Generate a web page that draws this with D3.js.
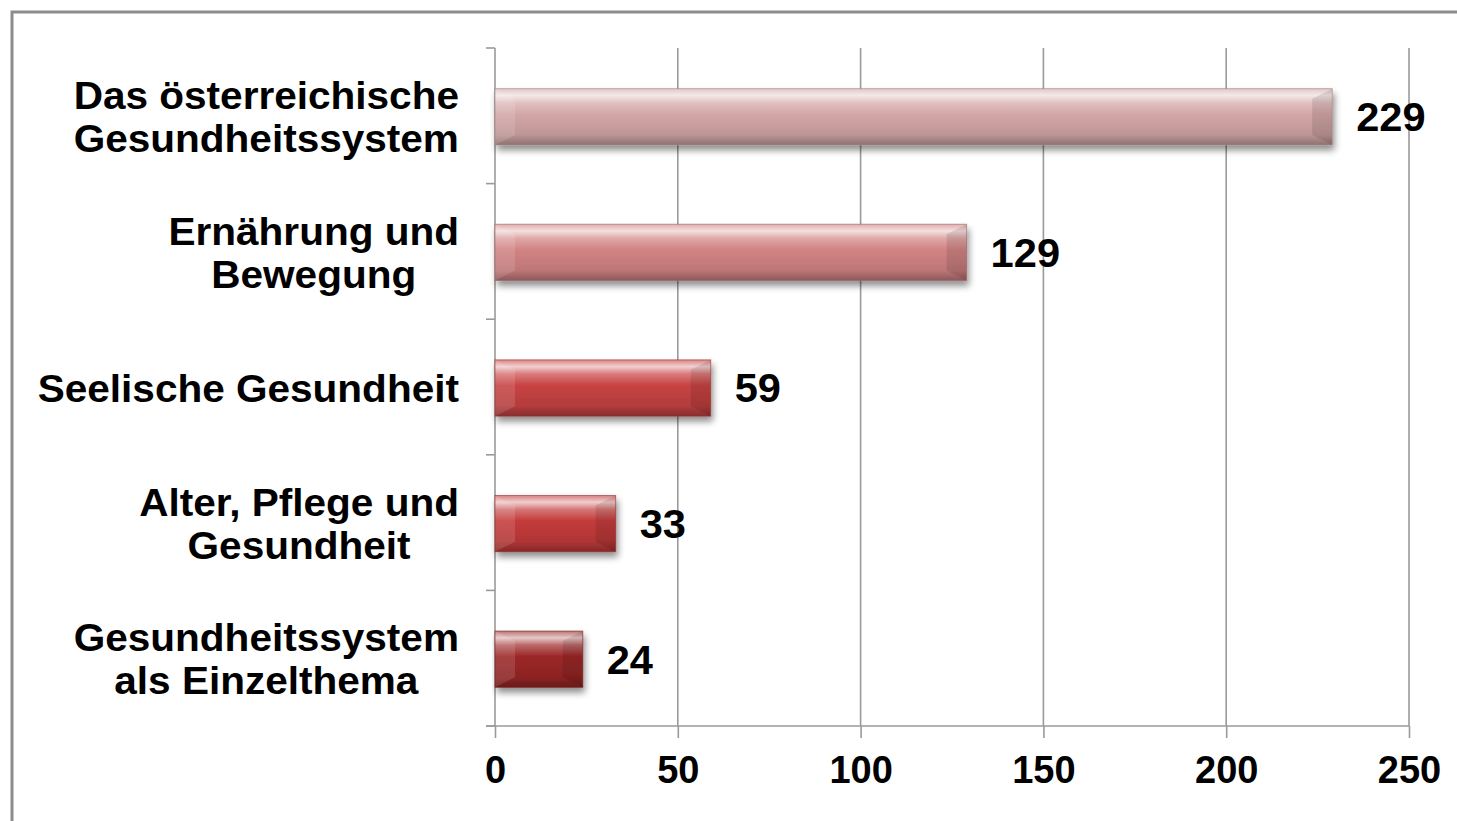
<!DOCTYPE html>
<html><head><meta charset="utf-8">
<script src="https://cdn.jsdelivr.net/npm/d3@7"></script>
<style>
html,body{margin:0;padding:0;background:#fff;overflow:hidden}
text{font-family:"Liberation Sans",Arial,sans-serif;font-weight:bold;fill:#000}
</style></head>
<body>
<svg id="c" width="1457" height="821"></svg>
<script>
// ---- data ----
const categories = [
  ["Das österreichische", "Gesundheitssystem"],
  ["Ernährung und", "Bewegung"],
  ["Seelische Gesundheit"],
  ["Alter, Pflege und", "Gesundheit"],
  ["Gesundheitssystem", "als Einzelthema"]
];
const values = [229, 129, 59, 33, 24];
const xTicks = [0, 50, 100, 150, 200, 250];

// ---- styles (separate from data) ----
const barColors = ["#d4a7a7", "#d28383", "#c84343", "#c43b3b", "#9c2727"];

const svg = d3.select("#c");
const W = 1457, H = 821;
const m = {left: 495, right: 48, top: 48, bottom: 95};

// frame
svg.append("path").attr("d", `M12,${H+5} L12,12 L${W+5},12`)
  .attr("fill", "none").attr("stroke", "#8c8c8c").attr("stroke-width", 3);

const x = d3.scaleLinear().domain([0, 250]).range([m.left, W - m.right]);
const y = d3.scaleBand().domain(d3.range(categories.length)).range([m.top, H - m.bottom]).paddingInner(0.585).paddingOuter(0.2925);
const yb = d3.scaleBand().domain(d3.range(categories.length)).range([m.top, H - m.bottom]);

const defs = svg.append("defs");
const f = defs.append("filter").attr("id", "sh").attr("x", "-5%").attr("y", "-20%").attr("width", "115%").attr("height", "160%");
f.append("feGaussianBlur").attr("in", "SourceAlpha").attr("stdDeviation", 3.5).attr("result", "b");
f.append("feOffset").attr("in", "b").attr("dx", 2).attr("dy", 5).attr("result", "o");
f.append("feComponentTransfer").attr("in", "o").attr("result", "o2").append("feFuncA").attr("type", "linear").attr("slope", 0.45);
const fm = f.append("feMerge");
fm.append("feMergeNode").attr("in", "o2");
fm.append("feMergeNode").attr("in", "SourceGraphic");

barColors.forEach((c, i) => {
  const g = defs.append("linearGradient").attr("id", "g" + i).attr("x1", 0).attr("y1", 0).attr("x2", 0).attr("y2", 1);
  const base = d3.color(c);
  g.append("stop").attr("offset", "0%").attr("stop-color", d3.interpolateRgb(c, "#fff")(0.35));
  g.append("stop").attr("offset", "12%").attr("stop-color", d3.interpolateRgb(c, "#fff")(0.75));
  g.append("stop").attr("offset", "25%").attr("stop-color", d3.interpolateRgb(c, "#fff")(0.3));
  g.append("stop").attr("offset", "45%").attr("stop-color", c);
  g.append("stop").attr("offset", "82%").attr("stop-color", base.darker(0.3));
  g.append("stop").attr("offset", "100%").attr("stop-color", base.darker(1.1));
});

// gridlines
svg.append("g").selectAll("line").data(xTicks.slice(1)).join("line")
  .attr("x1", d => x(d)).attr("x2", d => x(d))
  .attr("y1", m.top).attr("y2", H - m.bottom)
  .attr("stroke", "#9a9a9a").attr("stroke-width", 1.6);

// y axis
const yAxis = svg.append("g");
yAxis.append("line").attr("x1", m.left).attr("x2", m.left).attr("y1", m.top).attr("y2", H - m.bottom)
  .attr("stroke", "#9a9a9a").attr("stroke-width", 1.6);
yAxis.selectAll("line.t").data(d3.range(categories.length + 1)).join("line").attr("class", "t")
  .attr("x1", m.left - 9).attr("x2", m.left)
  .attr("y1", d => m.top + d * yb.step()).attr("y2", d => m.top + d * yb.step())
  .attr("stroke", "#9a9a9a").attr("stroke-width", 1.6);

// x axis
const xa = svg.append("g").attr("transform", `translate(0,${H - m.bottom})`)
  .call(d3.axisBottom(x).tickValues(xTicks).tickSize(12).tickPadding(18).tickSizeOuter(0));
xa.select(".domain").attr("stroke", "#9a9a9a").attr("stroke-width", 1.6).attr("d", `M${m.left - 9},0H${W - m.right}`);
xa.selectAll(".tick line").attr("stroke", "#9a9a9a").attr("stroke-width", 1.6);
xa.selectAll(".tick text").attr("font-size", 38).attr("font-family", "Liberation Sans, Arial, sans-serif").attr("font-weight", "bold").attr("fill", "#000").attr("dy", "0.71em");

// bars
const bars = svg.append("g");
values.forEach((v, i) => {
  const x0 = x(0), x1 = x(v), y0 = y(i) + 1, h = y.bandwidth(), b = 10;
  const g = bars.append("g").attr("filter", "url(#sh)");
  g.append("rect").attr("x", x0).attr("y", y0).attr("width", x1 - x0).attr("height", h).attr("fill", `url(#g${i})`);
  g.append("path").attr("d", `M${x0},${y0} L${x0 + b * 2},${y0 + b} L${x0 + b * 2},${y0 + h - b} L${x0},${y0 + h} Z`)
    .attr("fill", "#fff").attr("opacity", 0.12);
  g.append("path").attr("d", `M${x1},${y0} L${x1 - b * 2},${y0 + b} L${x1 - b * 2},${y0 + h - b} L${x1},${y0 + h} Z`)
    .attr("fill", "#000").attr("opacity", 0.1);
  g.append("rect").attr("x", x0).attr("y", y0).attr("width", x1 - x0).attr("height", h)
    .attr("fill", "none").attr("stroke", d3.color(barColors[i]).darker(0.8)).attr("stroke-width", 1).attr("opacity", 0.6);
});

// value labels
svg.append("g").selectAll("text").data(values).join("text")
  .attr("x", d => x(d) + 24).attr("y", (d, i) => y(i) + y.bandwidth() / 2 + 1)
  .attr("dy", "0.36em").attr("font-size", 40).attr("transform-origin", "0 0")
  .text(d => d)
  .each(function() {
    const t = d3.select(this), xx = +t.attr("x"), yy = +t.attr("y");
    t.attr("x", 0).attr("y", 0).attr("transform", `translate(${xx},${yy}) scale(1.04,1)`);
  });

// category labels
const labRight = 459, lineH = 43, sx = 1.067;
categories.forEach((lines, i) => {
  const cy = yb(i) + yb.bandwidth() / 2 + 1;
  const g = svg.append("g");
  const ts = lines.map((s, j) => g.append("text").attr("font-size", 38)
    .attr("text-anchor", "middle").attr("dy", "0.36em").text(s));
  const wmax = d3.max(ts, t => t.node().getComputedTextLength()) * sx;
  ts.forEach((t, j) => t.attr("transform",
    `translate(${labRight - wmax / 2},${cy + (j - (lines.length - 1) / 2) * lineH}) scale(${sx},1)`));
});
</script>
</body></html>
